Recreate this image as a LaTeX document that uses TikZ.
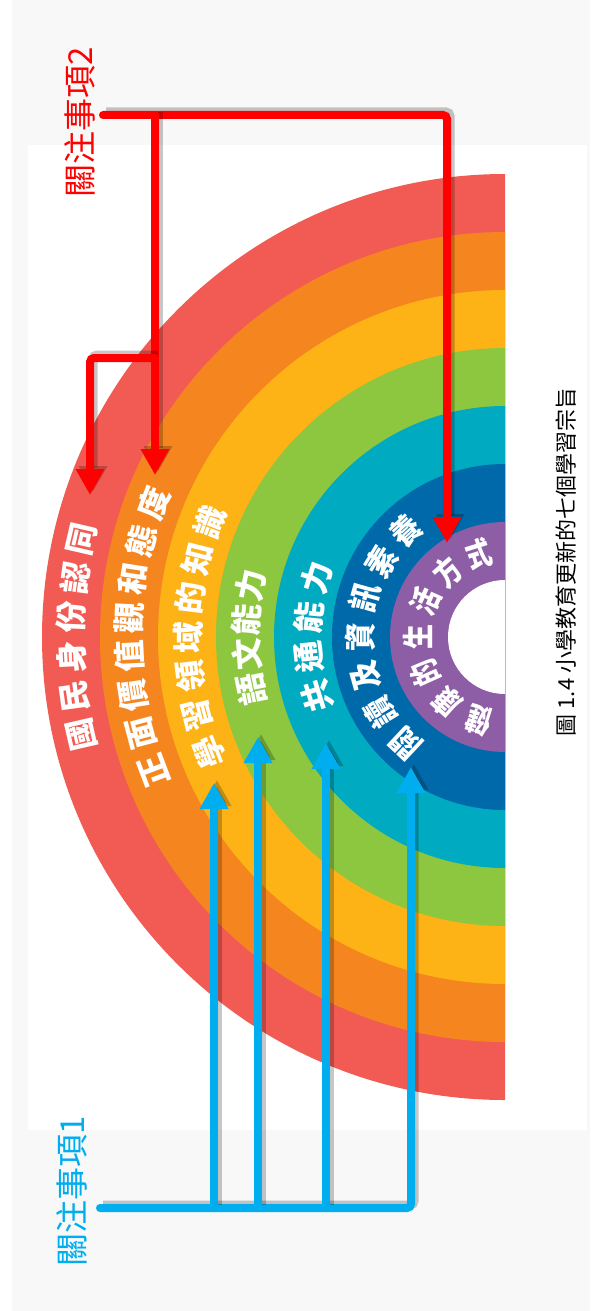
\documentclass[tikz,border=0pt]{standalone}
\usepackage{fontspec}
\newfontfamily\cjk{Noto Sans CJK TC}
\usetikzlibrary{arrows.meta}

\definecolor{bandred}{HTML}{F15B53}
\definecolor{bandorange}{HTML}{F5861F}
\definecolor{bandyellow}{HTML}{FDB216}
\definecolor{bandgreen}{HTML}{8DC63F}
\definecolor{bandteal}{HTML}{00AAC0}
\definecolor{bandblue}{HTML}{0069AA}
\definecolor{bandpurple}{HTML}{8D5EA6}
\definecolor{notered}{HTML}{FF0000}
\definecolor{noteblue}{HTML}{00AEEF}
\definecolor{bggray}{HTML}{F8F8F8}

\tikzset{
  note line/.style={line width=8pt, line cap=round, rounded corners=4pt,
    -{Triangle[width=27pt,length=26pt]},
    preaction={draw=black, opacity=.22, line width=9pt,
      transform canvas={shift={(3pt,3pt)}}}},
  note label/.style={font={\cjk\fontsize{33pt}{33pt}\selectfont}, rotate=90, inner sep=0pt},
  band char/.style={text=white, font={\cjk\bfseries\fontsize{32pt}{32pt}\selectfont}, inner sep=0pt},
}

% radius, step angle, count, name, squeeze, characters
\newcommand{\bandlabel}[6]{%
  \foreach \ch [count=\i] in {#6} {
    \pgfmathsetmacro{\ang}{180+((#3+1)/2-\i)*#2}
    \node[band char, rotate=\ang-90, xscale=#5] (#4-\i) at ([shift={(\ang:#1)}]C) {\ch};
  }}

\begin{document}
\begin{tikzpicture}[x=1pt,y=1pt]
		\useasboundingbox (0,0) rectangle (590,-1311);
		% Background
		\fill[bggray] (0,0) rectangle (590,-1311);
		\fill[white] (0,0) rectangle (12,-1311);
		\fill[white] (28,-145) rectangle (587,-1130);
		
		% Draw the rainbow bands
		\coordinate (C) at (505,-637);
		\foreach \r/\col in {463/bandred, 405/bandorange, 347/bandyellow, 289/bandgreen,
		                     231/bandteal, 173/bandblue, 115/bandpurple, 57/white}
		  \fill[\col] ([shift={(90:\r)}]C) arc[start angle=90, end angle=270, radius=\r] -- cycle;
		
		% Labels for bands
		\bandlabel{434}{5.2}{6}{nat}{1}{國,民,身,份,認,同}
		\bandlabel{376}{5.94}{8}{val}{1}{正,面,價,值,觀,和,態,度}
		\bandlabel{317}{7.1}{7}{kno}{1}{學,習,領,域,的,知,識}
		\bandlabel{259}{7.7}{4}{lan}{1}{語,文,能,力}
		\bandlabel{197}{11.6}{4}{gen}{1}{共,通,能,力}
		\bandlabel{145}{15.65}{7}{rea}{.9}{閱,讀,及,資,訊,素,養}
		\bandlabel{87}{24.2}{7}{hea}{.78}{健,康,的,生,活,方,式}
		
		% Labels for notes
		\node[note label, text=notered] (note2) at (80,-122) {關注事項2};
		\node[note label, text=noteblue] (note1) at (72,-1191) {關注事項1};
		\node[font={\cjk\fontsize{22pt}{22pt}\selectfont}, rotate=90, inner sep=0pt] (caption)
		  at (566,-562) {圖 1.4 小學教育更新的七個學習宗旨};
		
		% Draw the red connectors
		\coordinate (r0) at (103,-115);
		\coordinate (r1) at (447,-115);
		\coordinate (r2) at (447,-543);
		\coordinate (r3) at (155,-115);
		\coordinate (r4) at (155,-475);
		\coordinate (r5) at (155,-358);
		\coordinate (r6) at (90,-358);
		\coordinate (r7) at (90,-495);
		\draw[note line, notered] (r0) -- (r1) -- (r2);
		\draw[note line, notered] (r3) -- (r4);
		\draw[note line, notered] (r5) -- (r6) -- (r7);
		
		% Draw the blue connectors
		\coordinate (b0) at (100,-1208);
		\coordinate (b1) at (411,-1208);
		\coordinate (b2) at (411,-767);
		\coordinate (b3) at (214,-1208);
		\coordinate (b4) at (214,-783);
		\coordinate (b5) at (258,-1208);
		\coordinate (b6) at (258,-737);
		\coordinate (b7) at (326,-1208);
		\coordinate (b8) at (326,-743);
		\draw[note line, noteblue] (b0) -- (b1) -- (b2);
		\draw[note line, noteblue] (b3) -- (b4);
		\draw[note line, noteblue] (b5) -- (b6);
		\draw[note line, noteblue] (b7) -- (b8);
\end{tikzpicture}
\end{document}
